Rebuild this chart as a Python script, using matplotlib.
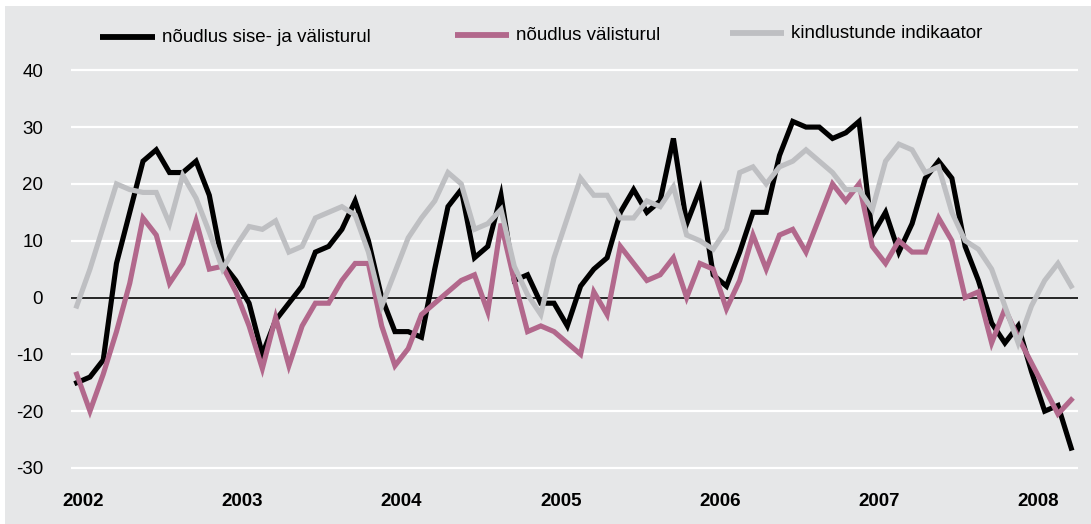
import matplotlib
matplotlib.use("Agg")
import matplotlib.pyplot as plt
from matplotlib.patches import Rectangle
from matplotlib.lines import Line2D
import numpy as np

plt.rcParams['font.family'] = ['Liberation Sans', 'DejaVu Sans']
plt.rcParams['axes.unicode_minus'] = False

# monthly data, Jan 2002 .. Apr 2008
years = ['2002', '2003', '2004', '2005', '2006', '2007', '2008']

demand_total = [
    -15, -14, -11, 6, 15, 24, 26, 22, 22, 24, 18, 6,
    3, -1, -10, -4, -1, 2, 8, 9, 12, 17, 10, 0,
    -6, -6, -7, 5, 16, 19, 7, 9, 18, 3, 4, -1,
    -1, -5, 2, 5, 7, 15, 19, 15, 17, 28, 13, 19,
    4, 2, 8, 15, 15, 25, 31, 30, 30, 28, 29, 31,
    11, 15, 8, 13, 21, 24, 21, 9, 3, -4.5, -8, -5,
    -13, -20, -19, -26.5]

demand_export = [
    -13.5, -20, -13.5, -6, 2.5, 14, 11, 2.5, 6, 13.5, 5, 5.5,
    1, -5, -12.5, -3.5, -12, -5, -1, -1, 3, 6, 6, -5,
    -12, -9, -3, -1, 1, 3, 4, -2.5, 13, 3, -6, -5,
    -6, -8, -10, 1, -3, 9, 6, 3, 4, 7, 0, 6,
    5, -2, 3, 11, 5, 11, 12, 8, 14, 20, 17, 20,
    9, 6, 10, 8, 8, 14, 10, 0, 1, -8, -2, -7,
    -11.5, -16, -20.5, -18]

confidence = [
    -1.5, 5, 12.5, 20, 19, 18.5, 18.5, 13, 21.5, 17.5, 11.5, 5,
    9, 12.5, 12, 13.5, 8, 9, 14, 15, 16, 14.5, 8, -1.5,
    4.5, 10.5, 14, 17, 22, 20, 12, 13, 15.5, 5.5, 0.5, -3,
    7, 14, 21, 18, 18, 14, 14, 17, 16, 19.5, 11, 10,
    8.5, 12, 22, 23, 20, 23, 24, 26, 24, 22, 19, 19,
    15.5, 24, 27, 26, 22, 23, 15, 10, 8.5, 5, -1.5, -8,
    -1.5, 3, 6, 2]

labels = ['nõudlus sise- ja välisturul', 'nõudlus välisturul', 'kindlustunde indikaator']
colors = ['#000000', '#b2688c', '#bebfc2']

W, H = 1091, 524
bg = '#e6e7e8'

fig = plt.figure(figsize=(W / 100, H / 100), dpi=100)
fig.patch.set_facecolor('white')
fig.patches.append(Rectangle((5 / W, 0), 1, 1 - 6 / H, transform=fig.transFigure,
                             facecolor=bg, edgecolor='none', zorder=-10))

ax = fig.add_axes([71 / W, 1 - 485 / H, (1077.7 - 71) / W, (485 - 64.6) / H])
ax.set_facecolor(bg)
for s in ax.spines.values():
    s.set_visible(False)

x = np.arange(len(demand_total))
ax.set_xlim(-0.43, 75.49)
ax.set_ylim(-33, 41)

ax.set_yticks(np.arange(-30, 41, 10))
ax.yaxis.grid(True, color='white', linewidth=1.6)
ax.set_axisbelow(True)
ax.axhline(0, color='black', linewidth=1.2, zorder=1)

for series, c in zip([demand_total, demand_export, confidence], colors):
    ax.plot(x, series, color=c, linewidth=3.7, solid_joinstyle='miter', zorder=2)

ax.set_xticks(np.arange(len(years)) * 12 + 0.5)
ax.set_xticklabels(years, fontsize=13.5, fontweight='bold')
ax.tick_params(axis='x', length=0, pad=6)
ax.tick_params(axis='y', length=0, pad=20, labelsize=13.5)

# legend drawn by hand across the top
legend_pos = [(100, 155, 162, 37), (455, 509, 516, 35), (730, 784, 791, 33)]
for (x0, x1, tx, ty), lab, c in zip(legend_pos, labels, colors):
    fig.add_artist(Line2D([x0 / W, x1 / W], [1 - ty / H, 1 - ty / H], color=c,
                          linewidth=4.2, solid_capstyle='butt'))
    fig.text(tx / W, 1 - ty / H, lab, fontsize=13.5, va='center', ha='left')

fig.savefig('out.png', dpi=100, facecolor=fig.get_facecolor())
